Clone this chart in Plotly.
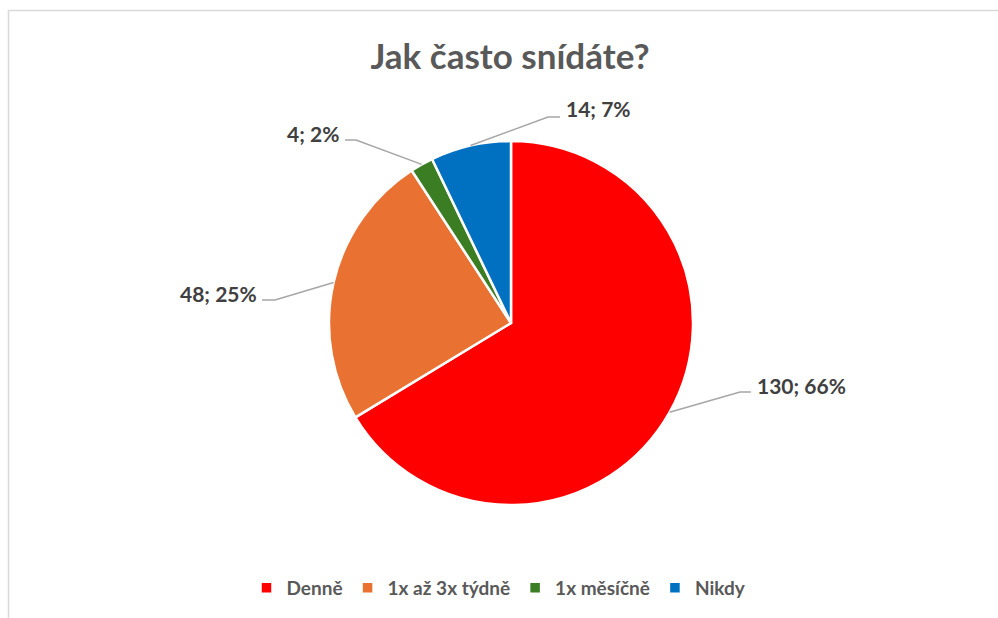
import math
import plotly.graph_objects as go

categories = ["Denně", "1x až 3x týdně", "1x měsíčně", "Nikdy"]
values = [130, 48, 4, 14]
percents = [66, 25, 2, 7]
colors = ["#FF0000", "#E97132", "#3A7D22", "#0070C0"]
title_text = "Jak často snídáte?"

W, H = 998, 618
CX, CY, R = 511, 323, 182

# label elbow and text anchor offsets (pixel) per slice
elbows = [(740, 392, 751), (275, 300, 262), (356, 140, 345), (548, 117, 560)]
text_pos = [(755, 385, "left"), (259, 293, "right"), (341, 133, "right"), (564, 108, "left")]

FONT = "Lato, Open Sans, sans-serif"

def px(x):
    return x / W

def py(y):
    return 1 - y / H

fig = go.Figure()
fig.add_trace(go.Pie(
    labels=categories, values=values, sort=False, direction="clockwise", rotation=0,
    marker=dict(colors=colors, line=dict(color="white", width=2.5)),
    textinfo="none", hoverinfo="label+value+percent",
    domain=dict(x=[px(CX - R), px(CX + R)], y=[py(CY + R), py(CY - R)]),
))

total = sum(values)
shapes = [dict(type="rect", xref="paper", yref="paper", x0=px(8.5), x1=1.2, y0=-0.2, y1=py(10.5),
               line=dict(color="#D9D9D9", width=1.5), fillcolor="rgba(0,0,0,0)", layer="below")]
annotations = []
cum = 0
for i, v in enumerate(values):
    mid = (cum + v / 2) / total * 2 * math.pi
    cum += v
    sx = CX + R * math.sin(mid)
    sy = CY - R * math.cos(mid)
    ex, ey, hx = elbows[i]
    shapes.append(dict(type="path", xref="paper", yref="paper",
                       path=f"M {px(sx)} {py(sy)} L {px(ex)} {py(ey)} L {px(hx)} {py(ey)}",
                       line=dict(color="#A6A6A6", width=1.5)))
    tx, ty, anch = text_pos[i]
    annotations.append(dict(xref="paper", yref="paper", x=px(tx), y=py(ty), xanchor=anch, yanchor="middle",
                            text=f"<b>{v}; {percents[i]}%</b>", showarrow=False,
                            font=dict(family=FONT, size=21, color="#404040")))

fig.update_layout(
    width=W, height=H, margin=dict(l=0, r=0, t=0, b=0),
    paper_bgcolor="white", plot_bgcolor="white",
    title=dict(text=f"<b>{title_text}</b>", x=px(510), xanchor="center", y=py(57), yanchor="middle",
               font=dict(family=FONT, size=35, color="#595959")),
    showlegend=True,
    legend=dict(orientation="h", x=0.5, xanchor="center", y=py(588), yanchor="middle",
                font=dict(family=FONT, size=19, color="#595959", weight="bold"),
                itemclick=False, itemdoubleclick=False, traceorder="normal"),
    shapes=shapes, annotations=annotations,
)

fig.write_html("out.html")
